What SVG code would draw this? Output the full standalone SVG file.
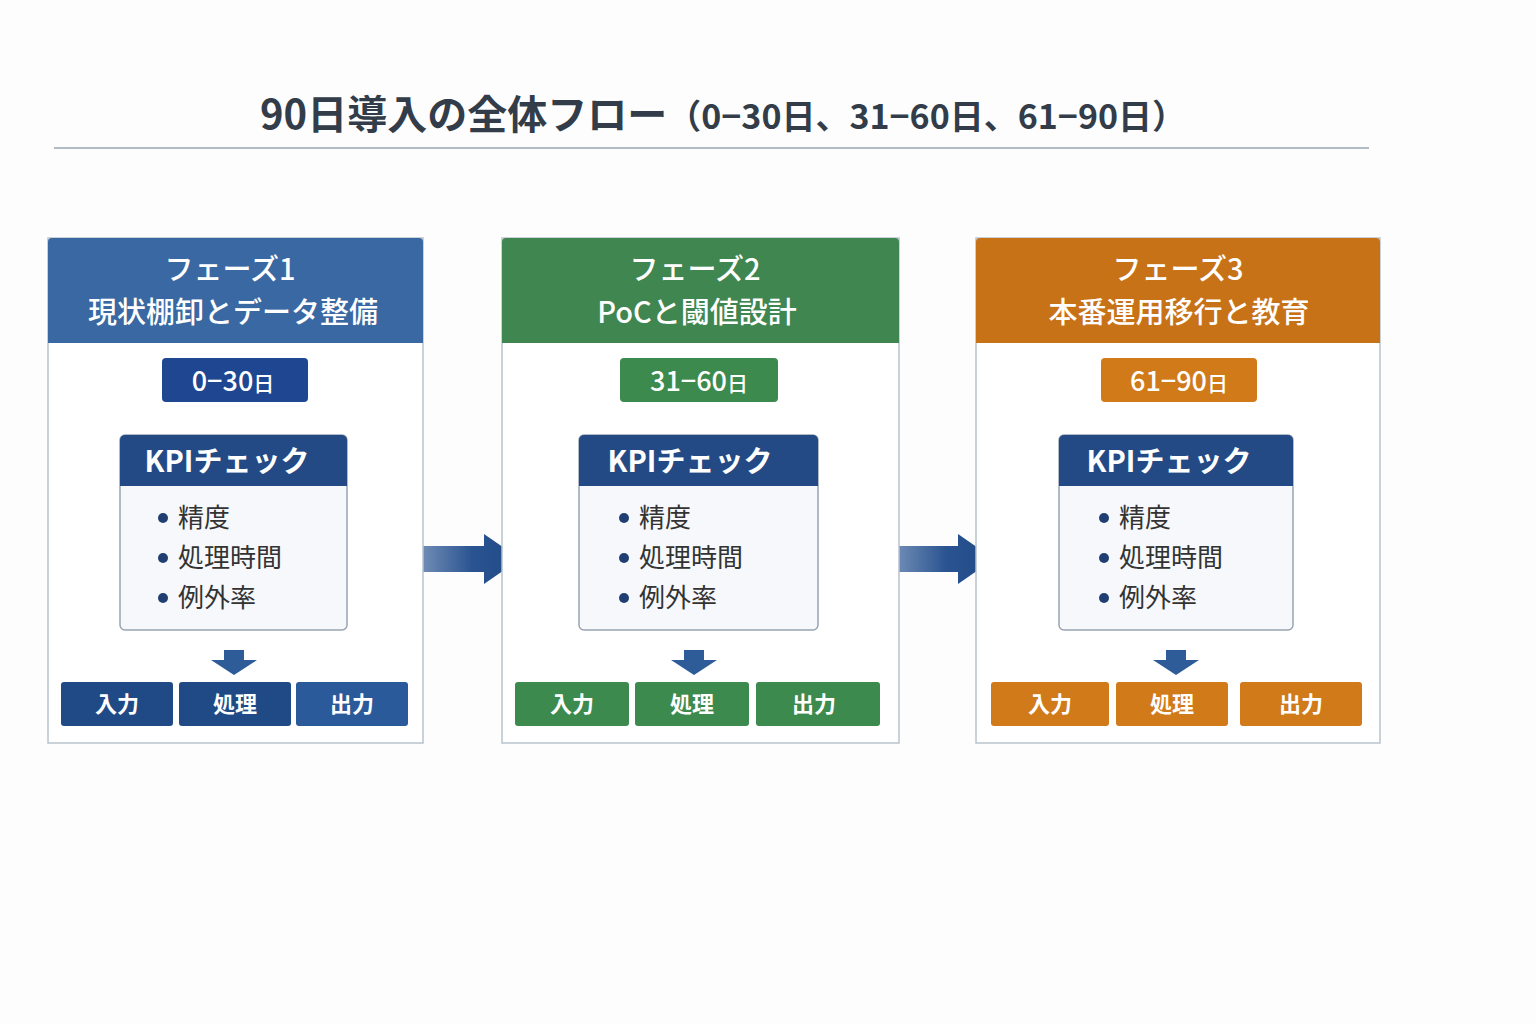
<svg xmlns="http://www.w3.org/2000/svg" width="1536" height="1024" viewBox="0 0 1536 1024">
<defs>
<linearGradient id="ag" x1="0" x2="1" y1="0" y2="0"><stop offset="0" stop-color="#c7d3e3"/><stop offset="0.7" stop-color="#2a5491"/><stop offset="1" stop-color="#1f4a86"/></linearGradient>
<style>
text{font-family:"Noto Sans CJK JP","Noto Sans",sans-serif;}
.card{fill:#fff;stroke:#b8c2cd;stroke-width:1.5}
.ht{fill:#fff;font-size:29px;font-weight:500;text-anchor:middle}
.pill{fill:#fff;font-size:27px;font-weight:500;text-anchor:middle}
.kbox{fill:#f6f8fb;stroke:#98a4b3;stroke-width:1.5}
.kh{fill:#234a85}
.kt{fill:#fff;font-size:29px;font-weight:700;text-anchor:middle}
.bl{fill:#333;font-size:26px}
.dot{fill:#1f3f73}
.bt{fill:#fff;font-size:22px;font-weight:700;text-anchor:middle}
.da{fill:#2e5c99}
</style>
</defs>
<rect width="1536" height="1024" fill="#fdfdfd"/>
<text x="260" y="129" font-size="40" font-weight="700" fill="#333d4a">90日導入の全体フロー<tspan font-size="34">（0−30日、31−60日、61−90日）</tspan></text>
<line x1="54" y1="148" x2="1369" y2="148" stroke="#9aa5b1" stroke-width="1.5"/>

<g id="connectors">
<polygon points="360,546 484,546 484,534 520,559 484,584 484,572 360,572" fill="url(#ag)"/>
<polygon points="834,546 958,546 958,534 994,559 958,584 958,572 834,572" fill="url(#ag)"/>
</g>

<g id="phase1">
<rect class="card" x="48" y="238" width="375" height="505"/>
<path d="M48,242 a4,4 0 0 1 4,-4 h367 a4,4 0 0 1 4,4 v101 h-375z" fill="#3a68a2"/>
<text class="ht" x="230" y="280">フェーズ1</text>
<text class="ht" x="233" y="323">現状棚卸とデータ整備</text>
<rect x="162" y="358" width="146" height="44" rx="4" fill="#1f4690"/>
<text class="pill" x="233" y="391">0−30<tspan font-size="21">日</tspan></text>
<rect class="kbox" x="120" y="435" width="227" height="195" rx="5"/>
<path d="M120,440 a5,5 0 0 1 5,-5 h217 a5,5 0 0 1 5,5 v46 h-227z" class="kh"/>
<text class="kt" x="227" y="472">KPIチェック</text>
<circle class="dot" cx="163" cy="518" r="5"/><text class="bl" x="178" y="527">精度</text>
<circle class="dot" cx="163" cy="558" r="5"/><text class="bl" x="178" y="567">処理時間</text>
<circle class="dot" cx="163" cy="598" r="5"/><text class="bl" x="178" y="607">例外率</text>
<polygon class="da" points="224,650 244,650 244,660 257,660 234,675 211,660 224,660"/>
<rect x="61" y="682" width="112" height="44" rx="3" fill="#1f4a86"/><text class="bt" x="117" y="712">入力</text>
<rect x="179" y="682" width="112" height="44" rx="3" fill="#1f4a86"/><text class="bt" x="235" y="712">処理</text>
<rect x="296" y="682" width="112" height="44" rx="3" fill="#2a5a9a"/><text class="bt" x="352" y="712">出力</text>
</g>

<g id="phase2">
<rect class="card" x="502" y="238" width="397" height="505"/>
<path d="M502,242 a4,4 0 0 1 4,-4 h389 a4,4 0 0 1 4,4 v101 h-397z" fill="#3f8650"/>
<text class="ht" x="695" y="280">フェーズ2</text>
<text class="ht" x="697" y="323">PoCと閾値設計</text>
<rect x="620" y="358" width="158" height="44" rx="4" fill="#3d8a4e"/>
<text class="pill" x="699" y="391">31−60<tspan font-size="21">日</tspan></text>
<rect class="kbox" x="579" y="435" width="239" height="195" rx="5"/>
<path d="M579,440 a5,5 0 0 1 5,-5 h229 a5,5 0 0 1 5,5 v46 h-239z" class="kh"/>
<text class="kt" x="690" y="472">KPIチェック</text>
<circle class="dot" cx="624" cy="518" r="5"/><text class="bl" x="639" y="527">精度</text>
<circle class="dot" cx="624" cy="558" r="5"/><text class="bl" x="639" y="567">処理時間</text>
<circle class="dot" cx="624" cy="598" r="5"/><text class="bl" x="639" y="607">例外率</text>
<polygon class="da" points="684,650 704,650 704,660 717,660 694,675 671,660 684,660"/>
<rect x="515" y="682" width="114" height="44" rx="3" fill="#3d8a4e"/><text class="bt" x="572" y="712">入力</text>
<rect x="635" y="682" width="114" height="44" rx="3" fill="#3d8a4e"/><text class="bt" x="692" y="712">処理</text>
<rect x="756" y="682" width="124" height="44" rx="3" fill="#3d8a4e"/><text class="bt" x="814" y="712">出力</text>
</g>

<g id="phase3">
<rect class="card" x="976" y="238" width="404" height="505"/>
<path d="M976,242 a4,4 0 0 1 4,-4 h396 a4,4 0 0 1 4,4 v101 h-404z" fill="#c87218"/>
<text class="ht" x="1178" y="280">フェーズ3</text>
<text class="ht" x="1179" y="323">本番運用移行と教育</text>
<rect x="1101" y="358" width="156" height="44" rx="4" fill="#d07a1a"/>
<text class="pill" x="1179" y="391">61−90<tspan font-size="21">日</tspan></text>
<rect class="kbox" x="1059" y="435" width="234" height="195" rx="5"/>
<path d="M1059,440 a5,5 0 0 1 5,-5 h224 a5,5 0 0 1 5,5 v46 h-234z" class="kh"/>
<text class="kt" x="1169" y="472">KPIチェック</text>
<circle class="dot" cx="1104" cy="518" r="5"/><text class="bl" x="1119" y="527">精度</text>
<circle class="dot" cx="1104" cy="558" r="5"/><text class="bl" x="1119" y="567">処理時間</text>
<circle class="dot" cx="1104" cy="598" r="5"/><text class="bl" x="1119" y="607">例外率</text>
<polygon class="da" points="1166,650 1186,650 1186,660 1199,660 1176,675 1153,660 1166,660"/>
<rect x="991" y="682" width="118" height="44" rx="3" fill="#d07a1a"/><text class="bt" x="1050" y="712">入力</text>
<rect x="1116" y="682" width="112" height="44" rx="3" fill="#d07a1a"/><text class="bt" x="1172" y="712">処理</text>
<rect x="1240" y="682" width="122" height="44" rx="3" fill="#d07a1a"/><text class="bt" x="1301" y="712">出力</text>
</g>
</svg>
